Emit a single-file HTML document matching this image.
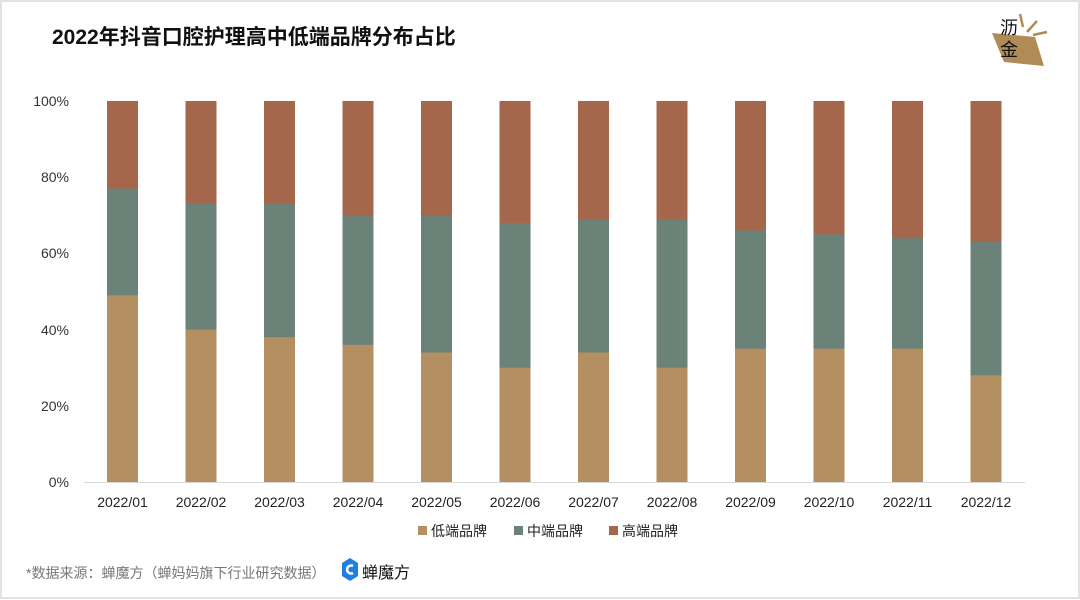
<!DOCTYPE html>
<html><head><meta charset="utf-8"><style>
html,body{margin:0;padding:0;background:#fff}
svg{display:block}
text{font-family:"Liberation Sans","Noto Sans CJK SC",sans-serif}
</style></head><body>
<svg width="1080" height="600" viewBox="0 0 1080 600" xmlns="http://www.w3.org/2000/svg">
<rect x="1" y="1" width="1078" height="597" fill="#fff" stroke="#e2e2e2" stroke-width="2"/>
<text x="52" y="44" font-size="21" font-weight="bold" fill="#111">2022年抖音口腔护理高中低端品牌分布占比</text>
<polygon points="992,33 1035,37 1044,66 1004,62" fill="#b08b55"/>
<line x1="1020" y1="14" x2="1023" y2="27" stroke="#b08b55" stroke-width="2.5"/>
<line x1="1027" y1="32" x2="1037" y2="21" stroke="#b08b55" stroke-width="2.5"/>
<line x1="1033" y1="35" x2="1047" y2="32" stroke="#b08b55" stroke-width="2.5"/>
<text x="1000" y="34" font-size="18" fill="#111">沥</text>
<text x="1000" y="56" font-size="18" fill="#111">金</text>
<g font-size="14" fill="#333" text-anchor="end">
<text x="69" y="106">100%</text><text x="69" y="182">80%</text><text x="69" y="258">60%</text>
<text x="69" y="335">40%</text><text x="69" y="411">20%</text><text x="69" y="487">0%</text>
</g>
<g fill="#a5674c">
<rect x="107" y="101" width="31" height="381"/><rect x="185.5" y="101" width="31" height="381"/>
<rect x="264" y="101" width="31" height="381"/><rect x="342.5" y="101" width="31" height="381"/>
<rect x="421" y="101" width="31" height="381"/><rect x="499.5" y="101" width="31" height="381"/>
<rect x="578" y="101" width="31" height="381"/><rect x="656.5" y="101" width="31" height="381"/>
<rect x="735" y="101" width="31" height="381"/><rect x="813.5" y="101" width="31" height="381"/>
<rect x="892" y="101" width="31" height="381"/><rect x="970.5" y="101" width="31" height="381"/>
</g>
<g fill="#6b8279">
<rect x="107" y="188.6" width="31" height="293.4"/><rect x="185.5" y="203.9" width="31" height="278.1"/>
<rect x="264" y="203.9" width="31" height="278.1"/><rect x="342.5" y="215.3" width="31" height="266.7"/>
<rect x="421" y="215.3" width="31" height="266.7"/><rect x="499.5" y="222.9" width="31" height="259.1"/>
<rect x="578" y="219.1" width="31" height="262.9"/><rect x="656.5" y="219.1" width="31" height="262.9"/>
<rect x="735" y="230.5" width="31" height="251.5"/><rect x="813.5" y="234.4" width="31" height="247.6"/>
<rect x="892" y="238.2" width="31" height="243.8"/><rect x="970.5" y="242" width="31" height="240"/>
</g>
<g fill="#b38f62">
<rect x="107" y="295.3" width="31" height="186.7"/><rect x="185.5" y="329.6" width="31" height="152.4"/>
<rect x="264" y="337.2" width="31" height="144.8"/><rect x="342.5" y="344.8" width="31" height="137.2"/>
<rect x="421" y="352.5" width="31" height="129.5"/><rect x="499.5" y="367.7" width="31" height="114.3"/>
<rect x="578" y="352.5" width="31" height="129.5"/><rect x="656.5" y="367.7" width="31" height="114.3"/>
<rect x="735" y="348.7" width="31" height="133.3"/><rect x="813.5" y="348.7" width="31" height="133.3"/>
<rect x="892" y="348.7" width="31" height="133.3"/><rect x="970.5" y="375.3" width="31" height="106.7"/>
</g>
<line x1="84" y1="482.5" x2="1025" y2="482.5" stroke="#d9d9d9" stroke-width="1"/>
<g font-size="14" fill="#222" text-anchor="middle">
<text x="122.5" y="507">2022/01</text><text x="201" y="507">2022/02</text><text x="279.5" y="507">2022/03</text>
<text x="358" y="507">2022/04</text><text x="436.5" y="507">2022/05</text><text x="515" y="507">2022/06</text>
<text x="593.5" y="507">2022/07</text><text x="672" y="507">2022/08</text><text x="750.5" y="507">2022/09</text>
<text x="829" y="507">2022/10</text><text x="907.5" y="507">2022/11</text><text x="986" y="507">2022/12</text>
</g>
<rect x="418" y="526" width="9" height="9" fill="#b38f62"/><text x="431" y="536" font-size="14" fill="#222">低端品牌</text>
<rect x="514" y="526" width="9" height="9" fill="#6b8279"/><text x="527" y="536" font-size="14" fill="#222">中端品牌</text>
<rect x="609" y="526" width="9" height="9" fill="#a5674c"/><text x="622" y="536" font-size="14" fill="#222">高端品牌</text>
<text x="26" y="578" font-size="14" fill="#777">*数据来源：蝉魔方（蝉妈妈旗下行业研究数据）</text>
<path d="M342 563 L350 558 L358 563 L358 576 L350 581 L342 576 Z" fill="#1e7fe0"/>
<path d="M353 566 A4 4 0 1 0 353 573" stroke="#fff" stroke-width="2.5" fill="none"/>
<text x="362" y="578" font-size="16" fill="#111">蝉魔方</text>
</svg>
</body></html>
